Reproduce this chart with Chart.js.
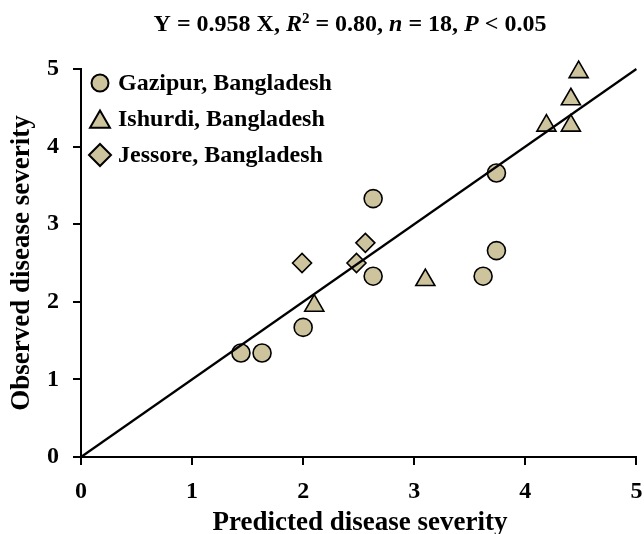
<!DOCTYPE html>
<html>
<head>
<meta charset="utf-8">
<script src="https://cdn.jsdelivr.net/npm/chart.js@4.4.1/dist/chart.umd.min.js"></script>
<style>
html,body{margin:0;padding:0;background:#fff;overflow:hidden;}
#wrap{width:649px;height:534px;position:relative;}
</style>
</head>
<body>
<div id="wrap"><canvas id="c" width="649" height="534"></canvas></div>
<script>
// ---- data ----
const gazipurX = [1.44, 1.63, 2.00, 2.63, 2.63, 3.62, 3.74, 3.74];
const gazipurY = [1.34, 1.34, 1.67, 3.33, 2.33, 2.33, 2.66, 3.66];
const ishurdiX = [2.10, 3.10, 4.19, 4.41, 4.41, 4.48];
const ishurdiY = [1.95, 2.28, 4.27, 4.27, 4.61, 4.96];
const jessoreX = [1.99, 2.48, 2.56];
const jessoreY = [2.50, 2.50, 2.76];
const fitX = [0, 5];
const fitY = [0, 5];
const seriesNames = ['Gazipur, Bangladesh', 'Ishurdi, Bangladesh', 'Jessore, Bangladesh'];
const tickValues = [0, 1, 2, 3, 4, 5];
const xTitle = 'Predicted disease severity';
const yTitle = 'Observed disease severity';

const FILL = 'rgb(205,196,158)';
const FONT = "'Liberation Serif', 'Times New Roman', serif";

function pts(xs, ys){ return xs.map((x,i)=>({x:x, y:ys[i]})); }

const titlePlugin = {
  id: 'customText',
  afterDraw(chart){
    const ctx = chart.ctx;
    ctx.save();
    ctx.fillStyle = '#000';
    // ---- title with italics and superscript ----
    const segs = [
      {t:'Y = 0.958 X, ', f:'bold 24px '+FONT},
      {t:'R', f:'italic bold 24px '+FONT},
      {t:'2', f:'bold 15px '+FONT, sup:true},
      {t:' = 0.80, ', f:'bold 24px '+FONT},
      {t:'n', f:'italic bold 24px '+FONT},
      {t:' = 18, ', f:'bold 24px '+FONT},
      {t:'P', f:'italic bold 24px '+FONT},
      {t:' < 0.05', f:'bold 24px '+FONT}
    ];
    let total = 0;
    segs.forEach(s=>{ ctx.font = s.f; s.w = ctx.measureText(s.t).width; total += s.w; });
    let x = 350 - total/2;
    const base = 31;
    ctx.textBaseline = 'alphabetic';
    ctx.textAlign = 'left';
    segs.forEach(s=>{ ctx.font = s.f; ctx.fillText(s.t, x, s.sup ? base-8 : base); x += s.w; });

    // ---- axis titles ----
    ctx.font = 'bold 27px '+FONT;
    ctx.textAlign = 'center';
    ctx.fillText(xTitle, 360, 530);
    ctx.save();
    ctx.translate(29, (chart.chartArea.top+chart.chartArea.bottom)/2);
    ctx.rotate(-Math.PI/2);
    ctx.fillText(yTitle, 0, 0);
    ctx.restore();

    // ---- legend ----
    const styles = [
      {ps:'circle', r:8.5, y:83},
      {ps:'triangle', r:11.5, y:122},
      {ps:'rectRot', r:11, y:155}
    ];
    const texty = [90, 126, 162];
    styles.forEach((s,i)=>{
      ctx.fillStyle = FILL;
      ctx.strokeStyle = '#000';
      ctx.lineWidth = 2;
      Chart.helpers.drawPoint(ctx, {pointStyle:s.ps, radius:s.r, borderWidth:2, rotation:0}, 100, s.y);
      ctx.fillStyle = '#000';
      ctx.font = 'bold 24px '+FONT;
      ctx.textAlign = 'left';
      ctx.fillText(seriesNames[i], 118, texty[i]);
    });
    ctx.restore();
  }
};

const common = {backgroundColor: FILL, borderColor:'#000', borderWidth:1.6, showLine:false, clip:false};

new Chart(document.getElementById('c'), {
  type: 'scatter',
  data: {
    datasets: [
      {type:'line', label:'fit', data: pts(fitX, fitY), borderColor:'#000', borderWidth:2.2,
       pointRadius:0, fill:false, order:-1, clip:false},
      Object.assign({label: seriesNames[0], data: pts(gazipurX, gazipurY), pointStyle:'circle', pointRadius:9, pointHoverRadius:9}, common),
      Object.assign({label: seriesNames[1], data: pts(ishurdiX, ishurdiY), pointStyle:'triangle', pointRadius:11, pointHoverRadius:11}, common),
      Object.assign({label: seriesNames[2], data: pts(jessoreX, jessoreY), pointStyle:'rectRot', pointRadius:9.5, pointHoverRadius:9.5}, common)
    ]
  },
  options: {
    responsive: false,
    maintainAspectRatio: false,
    animation: false,
    devicePixelRatio: 1,
    layout: {padding: {top: 69, right: 8, left: 0, bottom: 0}},
    plugins: {legend: {display:false}, title:{display:false}, tooltip:{enabled:false}},
    scales: {
      x: {
        type:'linear', min:0, max:5,
        afterBuildTicks(s){ s.ticks = tickValues.map(v=>({value:v})); },
        afterFit(s){ s.height = 77; s.paddingLeft = 0; s.paddingRight = 0; },
        border: {display:true, color:'#000', width:2},
        grid: {drawOnChartArea:false, drawTicks:true, tickLength:8, color:'#000', lineWidth:2},
        ticks: {color:'#000', padding:12, font:{family:FONT, size:24, weight:'bold'}, maxRotation:0}
      },
      y: {
        type:'linear', min:0, max:5,
        afterBuildTicks(s){ s.ticks = tickValues.map(v=>({value:v})); },
        afterFit(s){ s.width = 81; s.paddingTop = 0; s.paddingBottom = 0; },
        border: {display:true, color:'#000', width:2},
        grid: {drawOnChartArea:false, drawTicks:true, tickLength:8, color:'#000', lineWidth:2},
        ticks: {color:'#000', padding:14, font:{family:FONT, size:24, weight:'bold'}}
      }
    }
  },
  plugins: [titlePlugin]
});
</script>
</body>
</html>
